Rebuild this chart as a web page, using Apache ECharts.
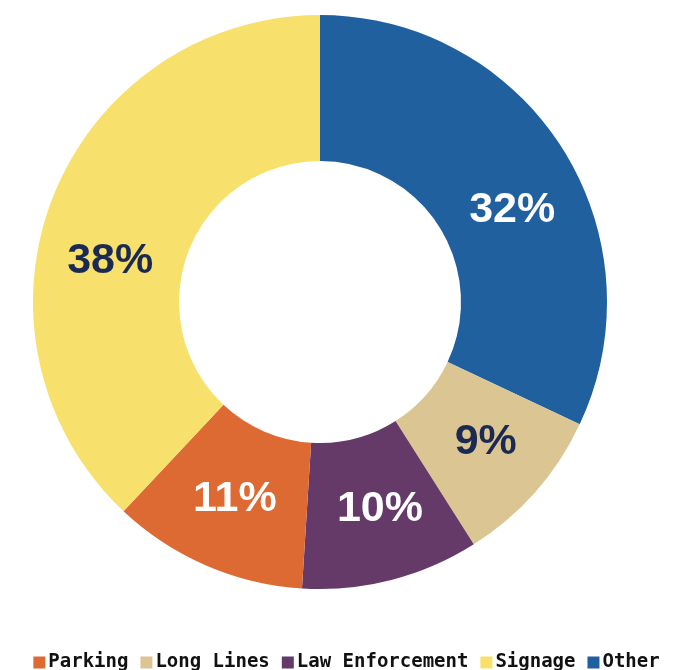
<!DOCTYPE html>
<html>
<head>
<meta charset="utf-8">
<script src="https://cdn.jsdelivr.net/npm/echarts@6/dist/echarts.min.js"></script>
<style>
html,body{margin:0;padding:0;background:#fff;}
#chart{width:693px;height:670px;}
</style>
</head>
<body>
<div id="chart"></div>
<script>
// Data (clockwise from 12 o'clock)
var categories = ['Other', 'Long Lines', 'Law Enforcement', 'Parking', 'Signage'];
var values = [32, 9, 10, 11, 38];
var legendOrder = ['Parking', 'Long Lines', 'Law Enforcement', 'Signage', 'Other'];

// Styles
var colors = {
  'Other': '#21609f',
  'Long Lines': '#dbc593',
  'Law Enforcement': '#653a69',
  'Parking': '#de6a33',
  'Signage': '#f7e06b'
};
var labelColors = {
  'Other': '#ffffff',
  'Long Lines': '#1b2a52',
  'Law Enforcement': '#ffffff',
  'Parking': '#ffffff',
  'Signage': '#1b2a52'
};
var labelShift = [[9, 24], [3, -3], [6, -3], [1, -2], [-8, 39]];

var chart = echarts.init(document.getElementById('chart'));
chart.setOption({
  animation: false,
  legend: {
    data: legendOrder,
    left: 'center',
    top: 648,
    itemWidth: 12,
    itemHeight: 12,
    itemGap: 12,
    icon: 'rect',
    textStyle: {
      fontFamily: 'DejaVu Sans Mono',
      fontWeight: 'bold',
      fontSize: 19,
      color: '#111',
      padding: [0, 0, 0, -2]
    }
  },
  series: [{
    type: 'pie',
    center: [320, 302],
    radius: [141, 287],
    startAngle: 90,
    clockwise: true,
    avoidLabelOverlap: false,
    label: {
      show: true,
      position: 'inside',
      formatter: '{c}%',
      fontFamily: 'Liberation Sans',
      fontWeight: 'bold',
      fontSize: 43
    },
    labelLine: { show: false },
    labelLayout: function (p) {
      var s = labelShift[p.dataIndex];
      return { dx: s[0], dy: s[1] };
    },
    emphasis: { disabled: true },
    data: categories.map(function (c, i) {
      return {
        name: c,
        value: values[i],
        itemStyle: { color: colors[c] },
        label: { color: labelColors[c] }
      };
    })
  }]
});
</script>
</body>
</html>
